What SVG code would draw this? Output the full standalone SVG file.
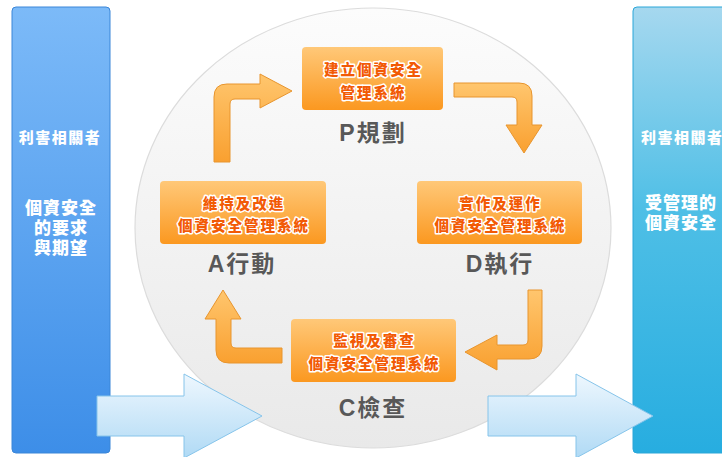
<svg xmlns="http://www.w3.org/2000/svg" width="722" height="457" viewBox="0 0 722 457">
<defs>
<linearGradient id="gLeft" x1="0" y1="0" x2="0" y2="1"><stop offset="0" stop-color="#7cbaf8"/><stop offset="1" stop-color="#3d8ee8"/></linearGradient>
<linearGradient id="gRight" x1="0" y1="0" x2="0" y2="1"><stop offset="0" stop-color="#a6d8ef"/><stop offset="0.45" stop-color="#4fbfe6"/><stop offset="1" stop-color="#27ade0"/></linearGradient>
<linearGradient id="gCircle" x1="0" y1="0" x2="0" y2="1"><stop offset="0" stop-color="#fcfcfc"/><stop offset="1" stop-color="#e9e9e9"/></linearGradient>
<linearGradient id="gBox" x1="0" y1="0" x2="0" y2="1"><stop offset="0" stop-color="#ffc878"/><stop offset="1" stop-color="#fb9820"/></linearGradient>
<linearGradient id="gArrow" x1="0" y1="0" x2="0" y2="1"><stop offset="0" stop-color="#ffc66e"/><stop offset="1" stop-color="#f9a030"/></linearGradient>
<linearGradient id="gBlue" x1="0" y1="0" x2="0" y2="1"><stop offset="0" stop-color="#eef7fe"/><stop offset="1" stop-color="#b0daf5"/></linearGradient>
</defs>
<style>
.panel-txt{font-family:"Liberation Sans","Noto Sans CJK TC",sans-serif;font-weight:900;fill:#ffffff}
.box{fill:url(#gBox)}
.box-txt{font-family:"Noto Sans CJK TC",sans-serif;font-weight:900;font-size:14.5px;fill:#f25a05;stroke:#ffffff;stroke-width:3;stroke-linejoin:round;paint-order:stroke;letter-spacing:2px;text-anchor:middle}
.label{font-family:"Liberation Sans","Noto Sans CJK TC",sans-serif;font-weight:bold;font-size:23px;fill:#585858;text-anchor:middle;letter-spacing:2px}
.oarrow{fill:url(#gArrow);stroke:#e8952e;stroke-width:1}
.barrow{fill:url(#gBlue);stroke:#86c4ea;stroke-width:1}
</style>
<g id="panel-left">
<rect x="12" y="7" width="98" height="446" rx="4" fill="url(#gLeft)" stroke="#3a86d8" stroke-width="1"/>
<text class="panel-txt" x="60" y="143" font-size="15" text-anchor="middle" letter-spacing="1.5">利害相關者</text>
<text class="panel-txt" x="61" y="214" font-size="17" text-anchor="middle" letter-spacing="1">個資安全</text>
<text class="panel-txt" x="61" y="234" font-size="17" text-anchor="middle" letter-spacing="1">的要求</text>
<text class="panel-txt" x="61" y="254" font-size="17" text-anchor="middle" letter-spacing="1">與期望</text>
</g>
<g id="panel-right">
<rect x="633" y="7" width="100" height="446" rx="4" fill="url(#gRight)" stroke="#2aa6d8" stroke-width="1"/>
<text class="panel-txt" x="641" y="143" font-size="15" letter-spacing="1.5">利害相關者</text>
<text class="panel-txt" x="645" y="209" font-size="17" letter-spacing="1">受管理的</text>
<text class="panel-txt" x="645" y="229" font-size="17" letter-spacing="1">個資安全</text>
</g>
<g id="cycle-bg">
<ellipse cx="373" cy="228" rx="238" ry="220" fill="url(#gCircle)" stroke="#dcdcdc" stroke-width="1.2"/>
</g>
<g id="connectors">
<path class="oarrow" d="M214,162 L214,97 Q214,84 227,84 L260,84 L260,74 L292,91 L260,108 L260,99 L235,99 Q230,99 230,104 L230,162 Z"/>
<path class="oarrow" d="M454,83 L519,83 Q532,83 532,96 L532,125 L542,125 L524,153 L506,125 L517,125 L517,102 Q517,97 512,97 L454,97 Z"/>
<path class="oarrow" d="M542,290 L542,346 Q542,359 529,359 L497,359 L497,370 L465,352 L497,335 L497,345 L523,345 Q528,345 528,340 L528,290 Z"/>
<path class="oarrow" d="M282,348 L236,348 Q231,348 231,343 L231,319 L241,319 L223,290 L205,319 L216,319 L216,350 Q216,363 229,363 L282,363 Z"/>
<path class="barrow" d="M97,396 L184,396 L184,374 L262,416 L184,458 L184,436 L97,436 Z"/>
<path class="barrow" d="M488,396 L576,396 L576,374 L653,416 L576,458 L576,436 L488,436 Z"/>
</g>
<g id="node-P">
<rect class="box" x="302" y="47" width="141" height="63" rx="4"/>
<text class="box-txt" x="373.5" y="75">建立個資安全</text>
<text class="box-txt" x="373.5" y="98">管理系統</text>
<text class="label" x="373" y="141">P規劃</text>
</g>
<g id="node-D">
<rect class="box" x="417" y="181" width="165" height="63" rx="4"/>
<text class="box-txt" x="500.5" y="209">實作及運作</text>
<text class="box-txt" x="500.5" y="231">個資安全管理系統</text>
<text class="label" x="500" y="272">D執行</text>
</g>
<g id="node-C">
<rect class="box" x="291" y="319" width="165" height="63" rx="4"/>
<text class="box-txt" x="374.5" y="346">監視及審查</text>
<text class="box-txt" x="374.5" y="369">個資安全管理系統</text>
<text class="label" x="373" y="416">C檢查</text>
</g>
<g id="node-A">
<rect class="box" x="160" y="181" width="166" height="63" rx="4"/>
<text class="box-txt" x="244" y="209">維持及改進</text>
<text class="box-txt" x="244" y="231">個資安全管理系統</text>
<text class="label" x="242" y="272">A行動</text>
</g>
</svg>
